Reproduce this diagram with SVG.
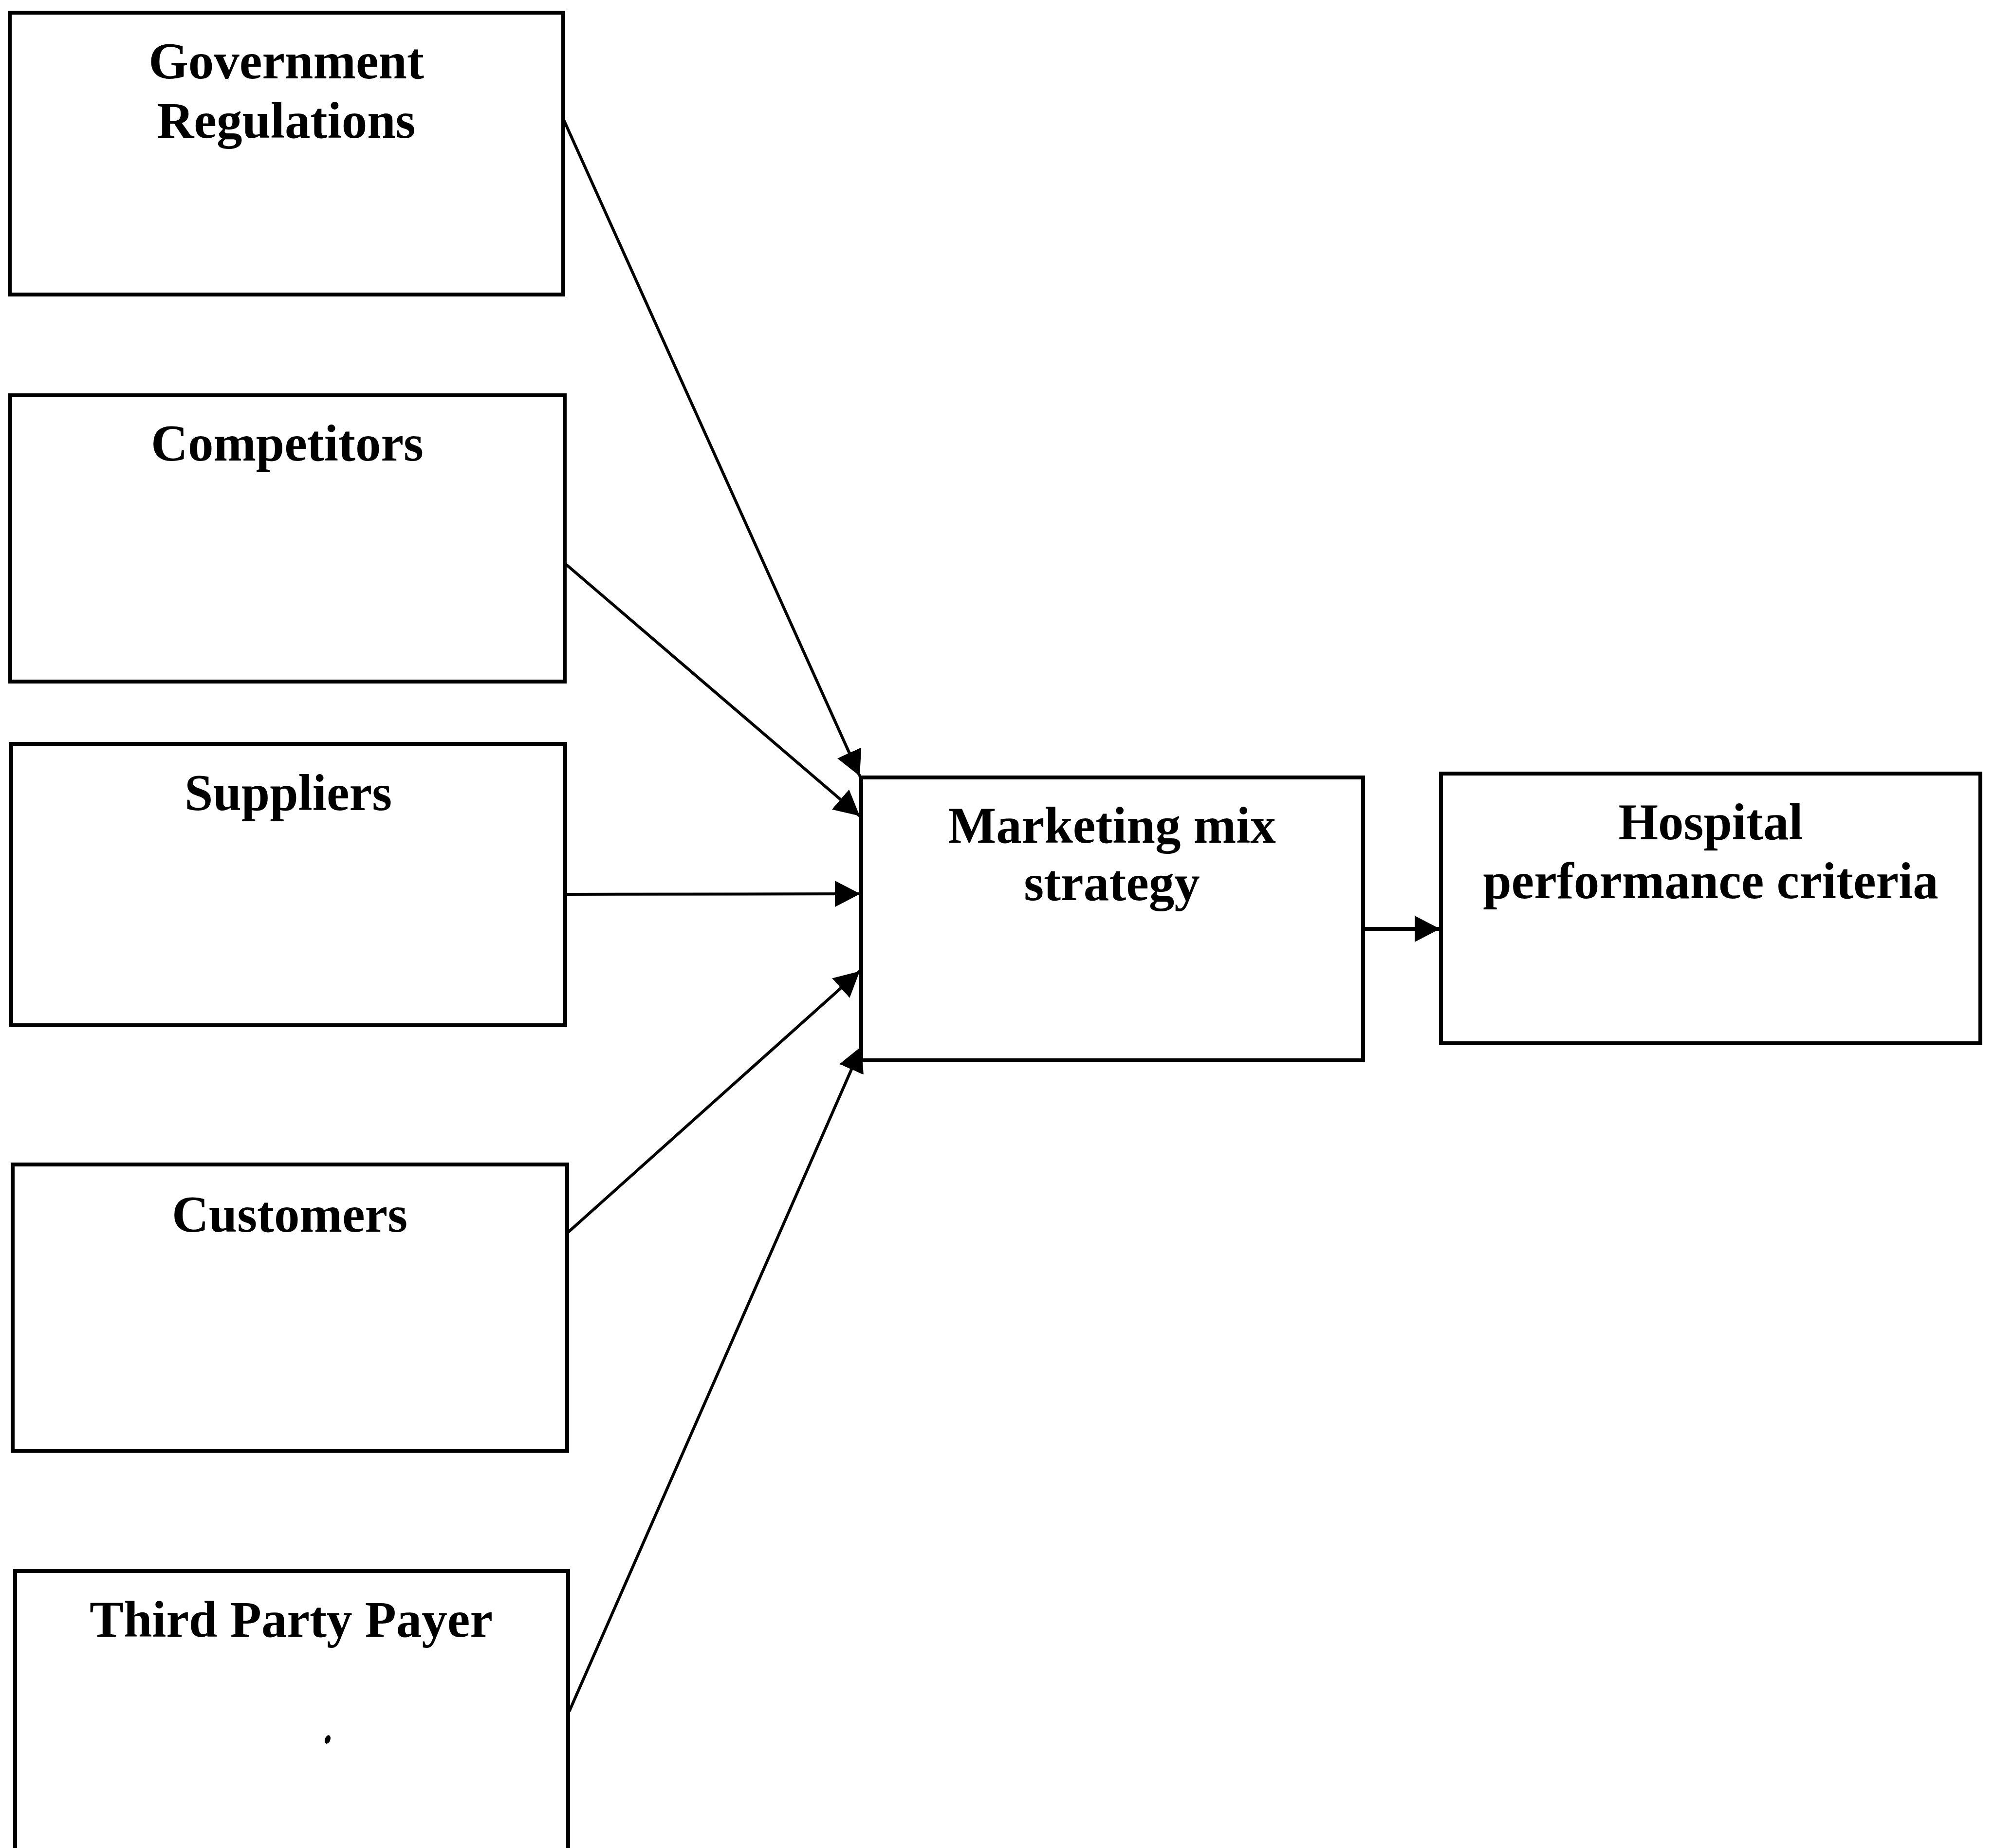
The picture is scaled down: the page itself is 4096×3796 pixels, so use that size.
<svg xmlns="http://www.w3.org/2000/svg" width="4096" height="3796" viewBox="0 0 4096 3796">
  <style>
    .box { fill: #ffffff; stroke: #000000; stroke-width: 8; }
    .label { font-family: "Liberation Serif", "Times New Roman", serif; font-weight: bold; font-size: 105px; fill: #000000; text-anchor: middle; }
    .edge { fill: none; stroke: #000000; stroke-width: 6; }
    .edge-main { fill: none; stroke: #000000; stroke-width: 8; }
  </style>
  <defs>
    <marker id="arrow" markerUnits="userSpaceOnUse" markerWidth="54" markerHeight="54" refX="52" refY="27" orient="auto" viewBox="0 0 54 54">
      <path d="M0,0 L52,27 L0,54 Z" fill="#000000"/>
    </marker>
  </defs>
  <rect width="4096" height="3796" fill="#ffffff"/>

  <!-- external factors -->
  <g id="government">
    <rect class="box" x="20" y="26" width="1137" height="579"/>
    <text class="label" x="588" y="161">Government</text>
    <text class="label" x="588" y="283">Regulations</text>
  </g>
  <g id="competitors">
    <rect class="box" x="21" y="812" width="1139" height="588"/>
    <text class="label" x="590" y="946">Competitors</text>
  </g>
  <g id="suppliers">
    <rect class="box" x="23" y="1528" width="1138" height="578"/>
    <text class="label" x="592" y="1664">Suppliers</text>
  </g>
  <g id="customers">
    <rect class="box" x="26" y="2392" width="1139" height="588"/>
    <text class="label" x="595" y="2530">Customers</text>
  </g>
  <g id="third-party-payer">
    <rect class="box" x="31" y="3227" width="1136" height="600"/>
    <text class="label" x="598" y="3362">Third Party Payer</text>
    <ellipse cx="673" cy="3573" rx="5.5" ry="9" transform="rotate(20 673 3573)" fill="#000000"/>
  </g>

  <!-- strategy and outcome -->
  <g id="marketing-mix">
    <rect class="box" x="1769" y="1597" width="1031" height="581"/>
    <text class="label" x="2284" y="1731">Marketing mix</text>
    <text class="label" x="2284" y="1849">strategy</text>
  </g>
  <g id="hospital-performance">
    <rect class="box" x="2960" y="1589" width="1108" height="554"/>
    <text class="label" x="3514" y="1724">Hospital</text>
    <text class="label" x="3514" y="1845">performance criteria</text>
  </g>

  <!-- connectors -->
  <g id="connectors">
    <line class="edge" x1="1157" y1="244" x2="1766" y2="1594" marker-end="url(#arrow)"/>
    <line class="edge" x1="1160" y1="1157" x2="1766" y2="1676" marker-end="url(#arrow)"/>
    <line class="edge" x1="1161" y1="1837" x2="1767" y2="1836" marker-end="url(#arrow)"/>
    <line class="edge" x1="1165" y1="2533" x2="1766" y2="1995" marker-end="url(#arrow)"/>
    <line class="edge" x1="1169" y1="3516" x2="1770" y2="2149" marker-end="url(#arrow)"/>
    <line class="edge-main" x1="2800" y1="1908" x2="2958" y2="1908" marker-end="url(#arrow)"/>
  </g>
</svg>
